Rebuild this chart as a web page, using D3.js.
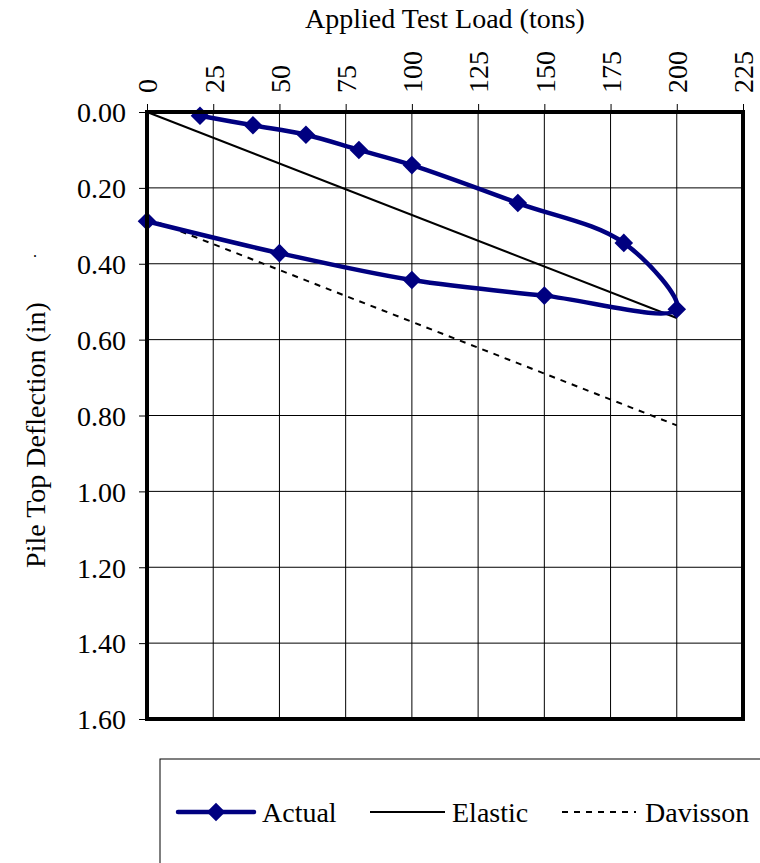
<!DOCTYPE html>
<html><head><meta charset="utf-8">
<script src="https://cdn.jsdelivr.net/npm/d3@7"></script>
<style>body{margin:0;background:#fff}svg{display:block}</style>
</head><body><svg id="c" width="760" height="863"></svg>
<script>
const xTicks = [0,25,50,75,100,125,150,175,200,225];
const yTicks = [0,0.2,0.4,0.6,0.8,1.0,1.2,1.4,1.6];
const actualLoad = [20,40,60,80,100,140,180,200,150,100,50,0];
const actualDefl = [0.01,0.035,0.06,0.10,0.14,0.24,0.345,0.52,0.484,0.443,0.372,0.288];
const elasticLoad = [0,200];
const elasticDefl = [0,0.543];
const davissonLoad = [0,200];
const davissonDefl = [0.28,0.826];
const seriesNames = ["Actual","Elastic","Davisson"];

const FF = "Times New Roman, Times, Liberation Serif, Tinos, Noto Serif, DejaVu Serif, FreeSerif, Nimbus Roman, serif";
const svg = d3.select("#c").attr("font-family",FF);
const L=147,R=743,T=112,B=719;
const x = d3.scaleLinear().domain([0,225]).range([L,R]);
const y = d3.scaleLinear().domain([0,1.6]).range([T,B]);

const g = svg.append("g");
g.selectAll(".vg").data(xTicks.slice(1,-1)).join("line")
 .attr("x1",d=>x(d)).attr("x2",d=>x(d)).attr("y1",T).attr("y2",B)
 .attr("stroke","#000").attr("stroke-width",1);
g.selectAll(".hg").data(yTicks.slice(1,-1)).join("line")
 .attr("x1",L).attr("x2",R).attr("y1",d=>y(d)).attr("y2",d=>y(d))
 .attr("stroke","#000").attr("stroke-width",1);

const xa = svg.append("g").attr("transform",`translate(0,${T})`)
 .call(d3.axisTop(x).tickValues(xTicks).tickSize(8).tickFormat(d3.format("d")));
xa.attr("font-family",FF).attr("font-size",28);
xa.select(".domain").remove();
xa.selectAll("line").attr("stroke","#000");
xa.selectAll("text").attr("fill","#000")
 .attr("transform",`translate(0,-19) rotate(-90)`)
 .attr("text-anchor","start").attr("x",0).attr("y",0).attr("dy","0.35em");

const ya = svg.append("g").attr("transform",`translate(${L},0)`)
 .call(d3.axisLeft(y).tickValues(yTicks).tickSize(8).tickFormat(d3.format(".2f")));
ya.attr("font-family",FF).attr("font-size",28);
ya.select(".domain").remove();
ya.selectAll("line").attr("stroke","#000");
ya.selectAll("text").attr("fill","#000").attr("x",-21).attr("dy","0.35em");

const line = d3.line().x(d=>x(d[0])).y(d=>y(d[1]));
const dav = d3.zip(davissonLoad,davissonDefl);
svg.append("path").attr("d",line(dav)).attr("fill","none").attr("stroke","#000")
 .attr("stroke-width",2).attr("stroke-dasharray","6,6");
const ela = d3.zip(elasticLoad,elasticDefl);
svg.append("path").attr("d",line(ela)).attr("fill","none").attr("stroke","#000").attr("stroke-width",2);

const act = d3.zip(actualLoad,actualDefl);
svg.append("path").attr("d",d3.line().x(d=>x(d[0])).y(d=>y(d[1])).curve(d3.curveCatmullRom.alpha(0.5))(act)).attr("fill","none")
 .attr("stroke","#000080").attr("stroke-width",4.5);
const dia = d3.symbol().type(d3.symbolDiamond2).size(220);
svg.selectAll(".pt").data(act).join("path")
 .attr("transform",d=>`translate(${x(d[0])},${y(d[1])})`).attr("d",dia).attr("fill","#000080");

svg.append("rect").attr("x",L).attr("y",T).attr("width",R-L).attr("height",B-T)
 .attr("fill","none").attr("stroke","#000").attr("stroke-width",4);

function txt(xx,yy,s,anchor){return svg.append("text").attr("x",xx).attr("y",yy).attr("text-anchor",anchor||"start").attr("font-size",28).attr("fill","#000").text(s);}
txt(445,28,"Applied Test Load (tons)","middle");
svg.append("text").attr("transform","translate(45,435) rotate(-90)").attr("text-anchor","middle").attr("font-size",28).text("Pile Top Deflection (in)");
svg.append("text").attr("x",35).attr("y",257).attr("text-anchor","middle").attr("font-size",16).text(".");

svg.append("rect").attr("x",160).attr("y",759).attr("width",620).attr("height",120)
 .attr("fill","none").attr("stroke","#000").attr("stroke-width",1);
const ly=812;
svg.append("line").attr("x1",178).attr("x2",254).attr("y1",ly).attr("y2",ly).attr("stroke","#000080").attr("stroke-width",4.5).attr("stroke-linecap","round");
svg.append("path").attr("transform",`translate(216,${ly})`).attr("d",dia).attr("fill","#000080");
txt(262,ly,seriesNames[0]).attr("dy","0.35em");
svg.append("line").attr("x1",370).attr("x2",445).attr("y1",ly).attr("y2",ly).attr("stroke","#000").attr("stroke-width",2);
txt(452,ly,seriesNames[1]).attr("dy","0.35em");
svg.append("line").attr("x1",562).attr("x2",636).attr("y1",ly).attr("y2",ly).attr("stroke","#000").attr("stroke-width",2).attr("stroke-dasharray","6,6");
txt(645,ly,seriesNames[2]).attr("dy","0.35em");
</script></body></html>
